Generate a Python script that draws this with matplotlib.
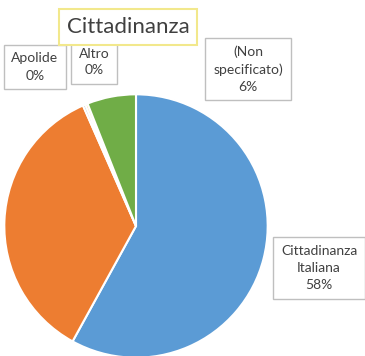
import matplotlib.pyplot as plt

categories = ["Cittadinanza\nItaliana", "Cittadinanza\nstraniera", "Apolide", "Altro", "(Non\nspecificato)"]
shares = [58.0, 35.4, 0.3, 0.3, 6.0]
pct_labels = ["58%", "", "0%", "0%", "6%"]
colors = ["#5B9BD5", "#ED7D31", "#A5A5A5", "#FFD966", "#70AD47"]

# label box centres in figure pixels (x from left, y from top)
label_pos = [(319, 268), None, (35, 67), (94, 62), (248, 69)]

W, H = 365, 356
plt.rcParams["font.family"] = ["Lato", "DejaVu Sans"]
fig = plt.figure(figsize=(W / 100, H / 100), dpi=100)

cx, cy, r = 136, 226, 133
ax = fig.add_axes([(cx - r) / W, (H - cy - r) / H, 2 * r / W, 2 * r / H])
ax.pie(shares, colors=colors, startangle=90, counterclock=False,
       wedgeprops=dict(edgecolor="white", linewidth=1.5))
ax.set_xlim(-1.01, 1.01)
ax.set_ylim(-1.01, 1.01)
ax.set_aspect("equal")
ax.axis("off")

box = dict(boxstyle="square,pad=0.55", facecolor="white", edgecolor="#BFBFBF", linewidth=1)
for name, pct, pos in zip(categories, pct_labels, label_pos):
    if pos is None:
        continue
    fig.text(pos[0] / W, 1 - pos[1] / H, name + "\n" + pct, ha="center", va="center",
             fontsize=10, color="#404040", linespacing=1.5, bbox=box)

fig.text(128 / W, 1 - 27 / H, "Cittadinanza", ha="center", va="center",
         fontsize=16, color="#404040",
         bbox=dict(boxstyle="square,pad=0.35", facecolor="white", edgecolor="#F2E88C", linewidth=1.5))

fig.savefig("out.png", dpi=100)
